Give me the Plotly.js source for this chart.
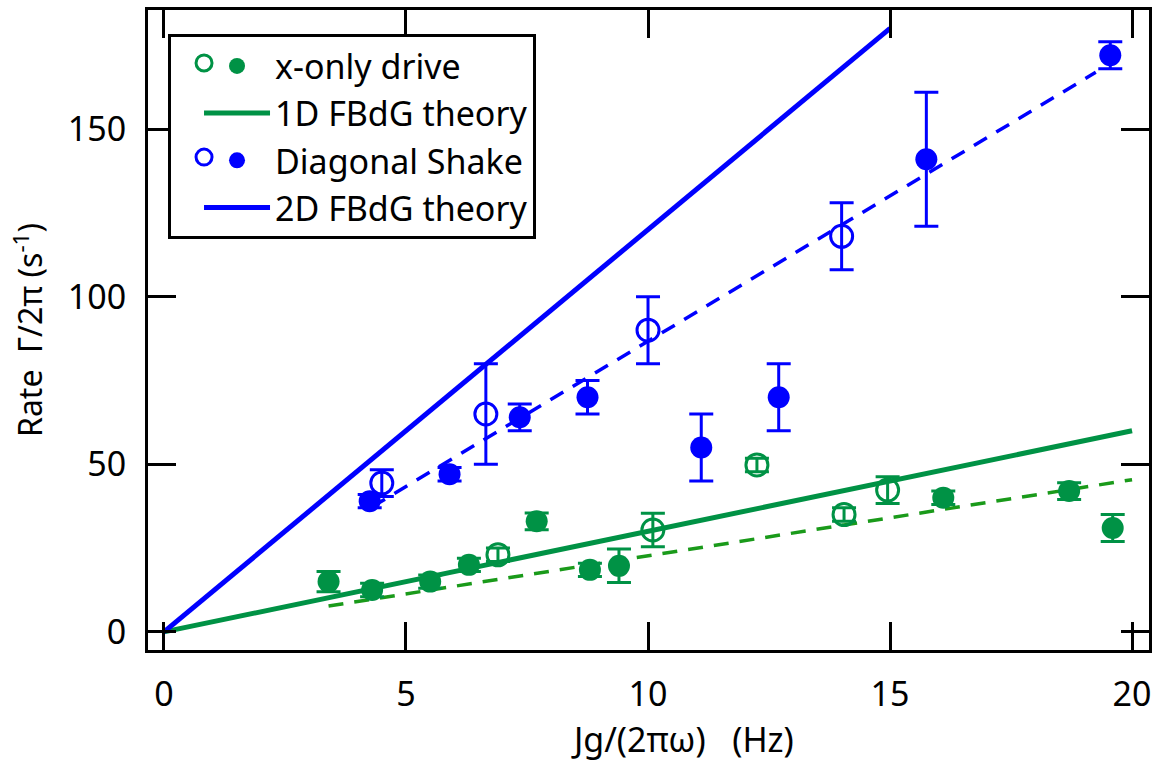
<!DOCTYPE html>
<html>
<head>
<meta charset="utf-8">
<script src="https://cdn.plot.ly/plotly-3.0.1.min.js"></script>
<style>html,body{margin:0;padding:0;background:#fff;}#chart{width:1168px;height:773px;}</style>
</head>
<body>
<div id="chart"></div>
<script>
// ---- data ----
const greenFilledX = [3.4, 4.3, 5.5, 6.3, 7.7, 8.8, 9.4, 16.1, 18.7, 19.6];
const greenFilledY = [15, 12.5, 15, 20, 33, 18.5, 19.7, 40, 42, 31];
const greenFilledErr = [3, 2, 2, 2, 2.5, 2, 5, 2, 2.5, 4];

const greenOpenX = [6.9, 10.1, 12.25, 14.05, 14.95];
const greenOpenY = [23, 30.4, 49.8, 35, 42.3];
const greenOpenErr = [2, 5, 2, 2, 4];

const blueFilledX = [4.25, 5.9, 7.35, 8.75, 11.1, 12.7, 15.75, 19.55];
const blueFilledY = [39, 47, 64, 70, 55, 70, 141, 172];
const blueFilledErr = [2, 2, 4, 5, 10, 10, 20, 4];

const blueOpenX = [4.5, 6.65, 10.0, 14.0];
const blueOpenY = [44.4, 65, 90, 118];
const blueOpenErr = [4, 15, 10, 10];

const theory1DX = [0, 20];
const theory1DY = [0, 60];
const theory2DX = [0, 15];
const theory2DY = [0, 180];

const greenFitX = [3.4, 20];
const greenFitY = [7.7, 45.4];
const blueFitX = [4.3, 19.25];
const blueFitY = [37.3, 166.9];

const xTicks = [0, 5, 10, 15, 20];
const yTicks = [0, 50, 100, 150];

// ---- styles ----
const GREEN = '#009245';
const GREEN_FIT = '#1a9a1a';
const BLUE = '#0000ff';
const FONT = 'Noto Sans, sans-serif';
const MS = 22;
const NB = '\u00a0';
const ZW = '\u200b';

function errBar(arr, color) {
  return {type: 'data', array: arr, visible: true, color: color, thickness: 3, width: 12};
}

const traces = [
  {x: greenFitX, y: greenFitY, mode: 'lines', line: {color: GREEN_FIT, width: 3.5, dash: '15px,11px'}, showlegend: false, hoverinfo: 'skip'},
  {x: blueFitX, y: blueFitY, mode: 'lines', line: {color: BLUE, width: 3.5, dash: '15px,11px'}, showlegend: false, hoverinfo: 'skip'},
  {x: theory1DX, y: theory1DY, mode: 'lines', name: '1D FBdG theory', line: {color: GREEN, width: 5}, legend: 'legend', legendrank: 2},
  {x: theory2DX, y: theory2DY, mode: 'lines', name: '2D FBdG theory', line: {color: BLUE, width: 5}, legend: 'legend', legendrank: 4},
  {x: greenOpenX, y: greenOpenY, mode: 'markers', name: NB, error_y: errBar(greenOpenErr, GREEN),
   marker: {symbol: 'circle-open', size: MS, color: GREEN, line: {width: 3, color: GREEN}}, legend: 'legend2', legendgroup: 'o1'},
  {x: greenFilledX, y: greenFilledY, mode: 'markers', name: 'x-only drive', error_y: errBar(greenFilledErr, GREEN),
   marker: {symbol: 'circle', size: MS, color: GREEN}, legend: 'legend', legendrank: 1},
  {x: blueOpenX, y: blueOpenY, mode: 'markers', name: NB, error_y: errBar(blueOpenErr, BLUE),
   marker: {symbol: 'circle-open', size: MS, color: BLUE, line: {width: 3, color: BLUE}}, legend: 'legend2', legendgroup: 'o3'},
  {x: blueFilledX, y: blueFilledY, mode: 'markers', name: 'Diagonal Shake', error_y: errBar(blueFilledErr, BLUE),
   marker: {symbol: 'circle', size: MS, color: BLUE}, legend: 'legend', legendrank: 3}
];

const axisCommon = {
  showline: true, linecolor: '#000', linewidth: 3, mirror: 'ticks',
  ticks: 'inside', ticklen: 28, tickwidth: 3, tickcolor: '#000',
  showgrid: false, zeroline: false,
  tickfont: {family: FONT, size: 34, color: '#000'}
};

const layout = {
  width: 1168, height: 773,
  margin: {l: 148, r: 19, t: 10, b: 123},
  paper_bgcolor: '#fff', plot_bgcolor: '#fff',
  font: {family: FONT, color: '#000'},
  xaxis: Object.assign({}, axisCommon, {
    range: [-0.33, 20.35], tickvals: xTicks, ticklabelstandoff: 12,
    title: {text: ZW + NB.repeat(8) + 'Jg/(2πω)' + NB.repeat(3) + '(Hz)', font: {family: FONT, size: 34}, standoff: 4}
  }),
  yaxis: Object.assign({}, axisCommon, {
    range: [-5.4, 185.5], tickvals: yTicks, ticklabelstandoff: 12,
    title: {text: 'Rate' + NB.repeat(2) + 'Γ/2π (s<sup>-1</sup>)', font: {family: FONT, size: 32}, standoff: 16}
  }),
  legend: {
    x: 0.020, y: 0.962, xanchor: 'left', yanchor: 'top',
    bgcolor: '#fff', bordercolor: '#000', borderwidth: 3,
    font: {family: FONT, size: 34, color: '#000'},
    indentation: 28, itemwidth: 66, traceorder: 'normal'
  },
  legend2: {
    x: 0.036, y: 0.962, xanchor: 'left', yanchor: 'top',
    bgcolor: 'rgba(0,0,0,0)', borderwidth: 0,
    font: {family: FONT, size: 34, color: '#000'},
    tracegroupgap: 47, traceorder: 'grouped'
  },
  showlegend: true
};

Plotly.newPlot('chart', traces, layout, {displayModeBar: false, staticPlot: true});
</script>
</body>
</html>
